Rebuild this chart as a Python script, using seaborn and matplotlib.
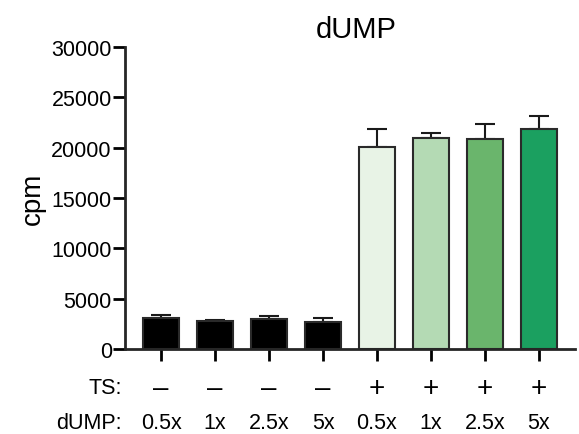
import numpy as np
import pandas as pd
import matplotlib
matplotlib.use("Agg")
import matplotlib.pyplot as plt
import matplotlib.transforms as mtransforms
import seaborn as sns

# values
ts_labels = ["\u2013", "\u2013", "\u2013", "\u2013", "+", "+", "+", "+"]
dump_labels = ["0.5x", "1x", "2.5x", "5x", "0.5x", "1x", "2.5x", "5x"]
cpm_mean = [3100, 2800, 3000, 2700, 20100, 20950, 20900, 21900]
cpm_err = [300, 100, 250, 350, 1750, 500, 1500, 1250]
bar_colors = ["#000000", "#000000", "#000000", "#000000",
              "#e8f3e6", "#b4dab4", "#6ab56c", "#1ba060"]

sns.set_style("ticks")
plt.rcParams["font.family"] = ["Liberation Sans", "DejaVu Sans"]
plt.rcParams["text.color"] = "black"
plt.rcParams["xtick.color"] = "black"
plt.rcParams["ytick.color"] = "black"
plt.rcParams["axes.labelcolor"] = "black"

df = pd.DataFrame({
    "group": [f"{t}{d}_{i}" for i, (t, d) in enumerate(zip(ts_labels, dump_labels))],
    "cpm": cpm_mean,
})

fig = plt.figure(figsize=(5.79, 4.35), dpi=100)
ax = fig.add_axes([125 / 579, 1 - 350 / 435, 450 / 579, 302 / 435])

sns.barplot(data=df, x="group", y="cpm", hue="group", palette=bar_colors,
            saturation=1, legend=False, width=0.67, edgecolor="#2a2a2a",
            linewidth=1.5, errorbar=None, ax=ax, zorder=2)

xs = np.arange(len(cpm_mean))
ax.errorbar(xs, cpm_mean, yerr=[np.zeros(len(cpm_err)), cpm_err], fmt="none",
            ecolor="#1a1a1a", elinewidth=1.5, capsize=7, capthick=1.5, zorder=1)

ax.set_xlim(-0.67, 7.67)
ax.set_ylim(0, 30000)
ax.set_yticks(np.arange(0, 30001, 5000))
ax.set_yticklabels([str(v) for v in range(0, 30001, 5000)], fontsize=15.5)
ax.set_xticks(xs)
ax.set_xticklabels([])
ax.set_xlabel("")
ax.set_ylabel("cpm", fontsize=20, labelpad=4)
ax.set_title("dUMP", fontsize=21, pad=7, x=0.513)

for side in ["top", "right"]:
    ax.spines[side].set_visible(False)
for side in ["left", "bottom"]:
    ax.spines[side].set_linewidth(2)
ax.tick_params(axis="both", width=2, length=8.5, direction="out")
ax.tick_params(axis="y", pad=1)

# two-row condition table under the bars
trans = mtransforms.blended_transform_factory(ax.transData, ax.transAxes)
row_y = [-0.129, -0.242]
for x, t, d in zip(xs, ts_labels, dump_labels):
    ax.text(x, row_y[0], t, transform=trans, ha="center", va="center", fontsize=20)
    ax.text(x, row_y[1], d, transform=trans, ha="center", va="center", fontsize=15.5)
ax.text(-0.007, row_y[0], "TS:", transform=ax.transAxes, ha="right", va="center", fontsize=15.5)
ax.text(-0.007, row_y[1], "dUMP:", transform=ax.transAxes, ha="right", va="center", fontsize=15.5)

fig.savefig("out.png", dpi=100)
